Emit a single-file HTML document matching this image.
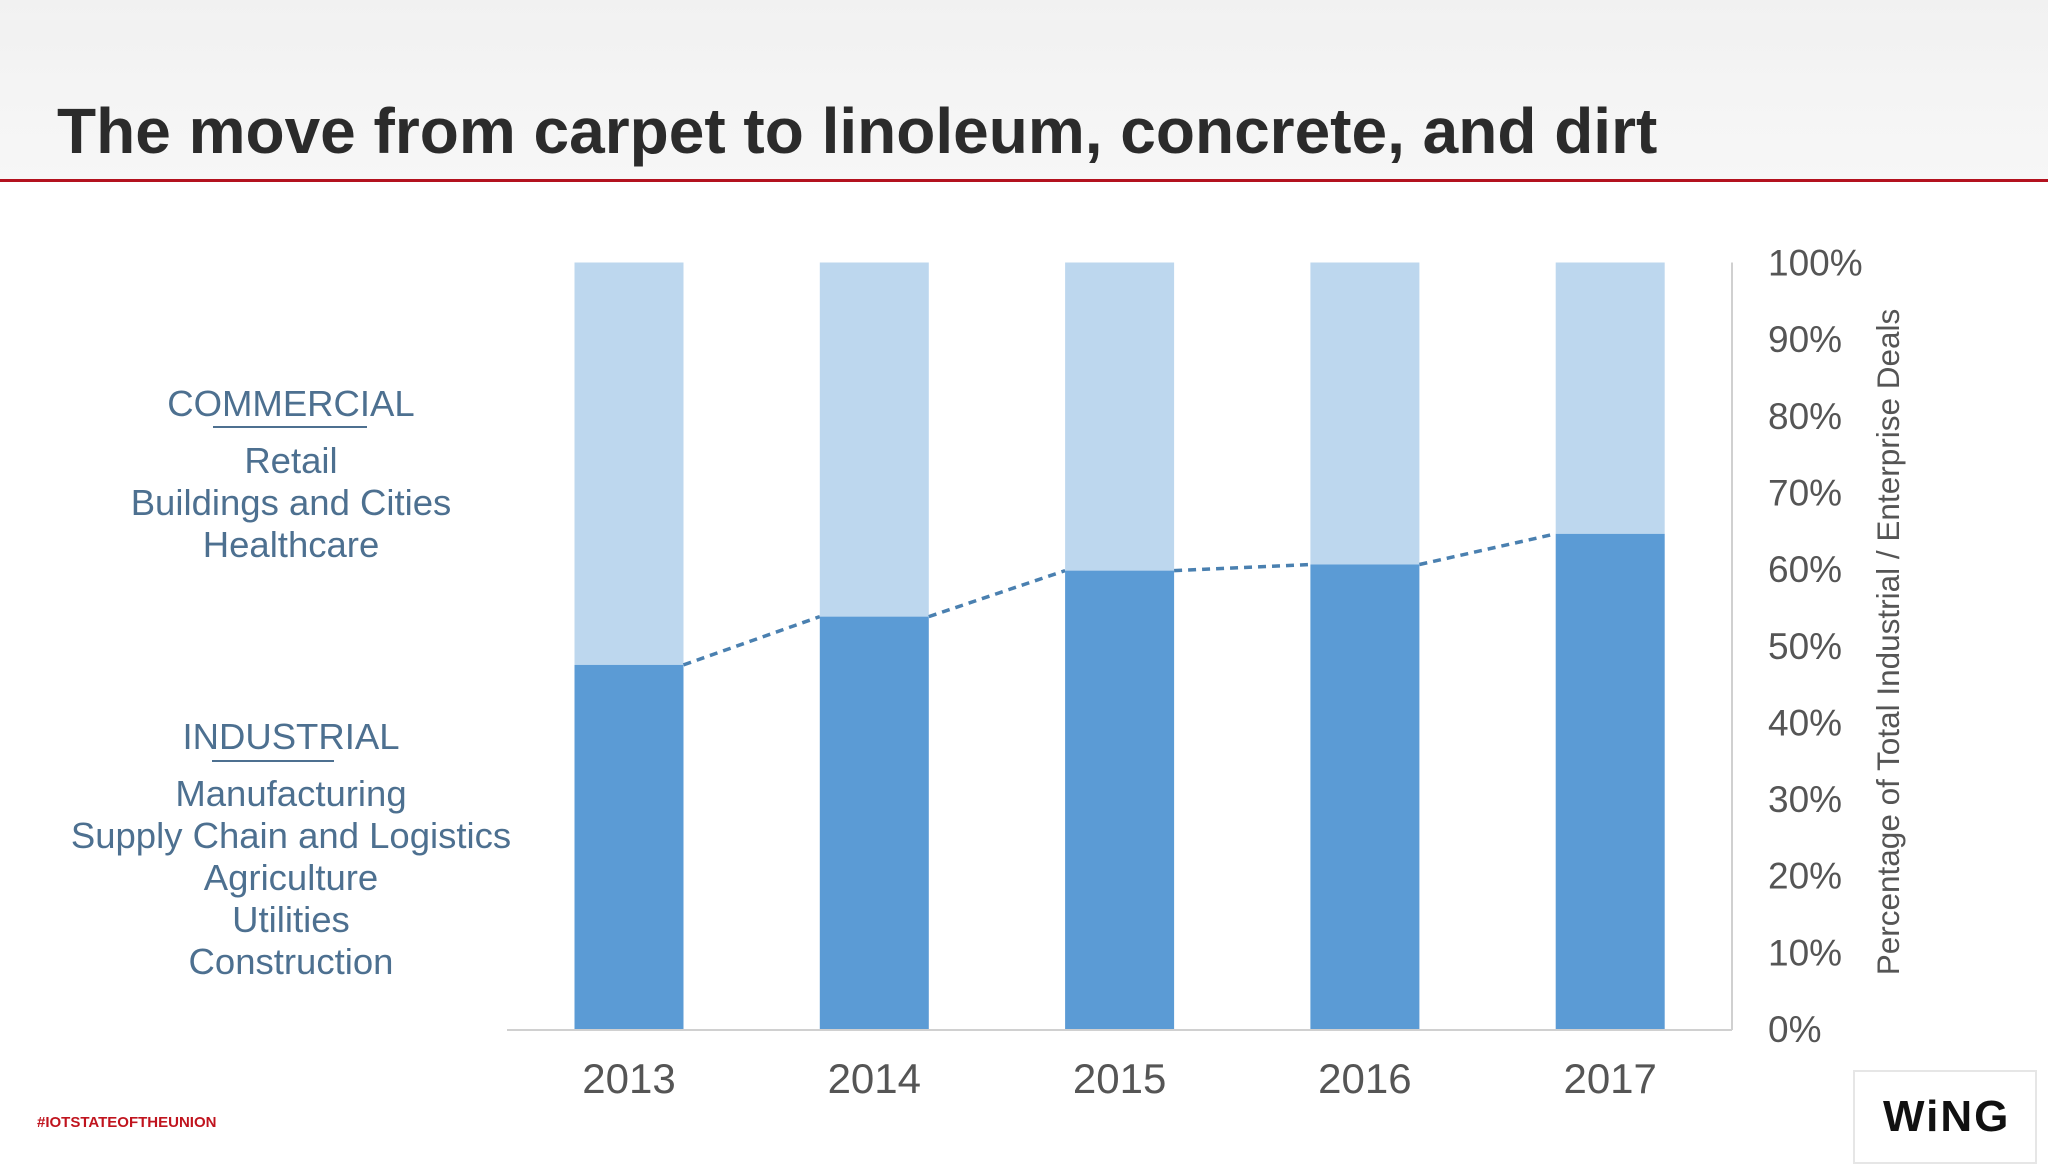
<!DOCTYPE html>
<html><head><meta charset="utf-8"><style>
body{margin:0;width:2048px;height:1152px;overflow:hidden;background:#fff;font-family:"Liberation Sans",sans-serif;}
#bg{position:absolute;left:0;top:0;width:2048px;height:180px;background:linear-gradient(180deg,#f1f1f1,#f7f7f7);}
.title{position:absolute;left:57px;top:94px;font-size:64px;font-weight:bold;color:#2b2b2b;white-space:nowrap;}
.rule{position:absolute;left:0;top:179px;width:2048px;height:3px;background:#b3121f;}
.lt{position:absolute;width:580px;left:1px;text-align:center;color:#4d7090;font-size:36.5px;line-height:42px;}
.ul{position:absolute;height:2px;background:#4d7090;}
</style></head><body>
<div id="bg"></div>
<div class="title">The move from carpet to linoleum, concrete, and dirt</div>
<div class="rule"></div>
<div class="lt" style="top:383px">COMMERCIAL</div>
<div class="ul" style="left:213px;width:154px;top:426px"></div>
<div class="lt" style="top:440px">Retail<br>Buildings and Cities<br>Healthcare</div>
<div class="lt" style="top:716px">INDUSTRIAL</div>
<div class="ul" style="left:212px;width:122px;top:760px"></div>
<div class="lt" style="top:773px">Manufacturing<br>Supply Chain and Logistics<br>Agriculture<br>Utilities<br>Construction</div>
<svg id="chart" width="2048" height="1152" style="position:absolute;left:0;top:0"></svg>
<div style="position:absolute;left:37px;top:1114px;font-size:15px;font-weight:bold;color:#c0141e">#IOTSTATEOFTHEUNION</div>
<div style="position:absolute;left:1853px;top:1070px;width:180px;height:90px;border:2px solid #e6e6e6;background:#fff">
<div style="position:absolute;left:28px;top:20px;font-size:44px;font-weight:bold;color:#111;letter-spacing:2px">W<span style="color:#111">i</span>NG</div></div>
<script>
const years=["2013","2014","2015","2016","2017"];
const industrial=[47.5,53.8,59.8,60.6,64.6];
const ticks=[0,10,20,30,40,50,60,70,80,90,100];
const svg=document.getElementById('chart');
const NS='http://www.w3.org/2000/svg';
const y0=1029,y1=262.5;
function yS(v){return y0-(y0-y1)*v/100;}
function xC(i){return 629+i*245.3;}
const bw=109;
function mk(t,a){const e=document.createElementNS(NS,t);for(const k in a)e.setAttribute(k,a[k]);svg.appendChild(e);return e;}
years.forEach((yr,i)=>{
 const x=xC(i)-bw/2;
 const top=mk('rect',{x:x,y:yS(100),width:bw,height:yS(industrial[i])-yS(100),fill:'#bdd7ee'});
 
 
 const b=mk('rect',{x:x,y:yS(industrial[i]),width:bw,height:y0-yS(industrial[i]),fill:'#5b9bd5'});
 
 
 const t=mk('text',{x:xC(i),y:1093,'text-anchor':'middle','font-size':42,fill:'#555','font-family':'Liberation Sans'});
 t.textContent=yr;
 
 
 if(i<years.length-1){
  const l=mk('line',{x1:x+bw,y1:yS(industrial[i]),x2:xC(i+1)-bw/2,y2:yS(industrial[i+1]),stroke:'#4a80b0','stroke-width':3.5,'stroke-dasharray':'8,6'});
  
  
 }
});
const base=mk('line',{x1:507,y1:y0+1,x2:1732,y2:y0+1,stroke:'#d0d0d0','stroke-width':2});


const ax=mk('line',{x1:1732,y1:y1,x2:1732,y2:y0+1,stroke:'#d0d0d0','stroke-width':2});


ticks.forEach(v=>{
 const t=mk('text',{x:1768,y:yS(v)+13,'font-size':37,fill:'#555','font-family':'Liberation Sans'});
 t.textContent=v+'%';
 
 
});
const yt=mk('text',{x:0,y:0,'font-size':31.5,fill:'#555','text-anchor':'middle','font-family':'Liberation Sans',transform:'translate(1899,642) rotate(-90)'});
yt.textContent='Percentage of Total Industrial / Enterprise Deals';


</script>
</body></html>
